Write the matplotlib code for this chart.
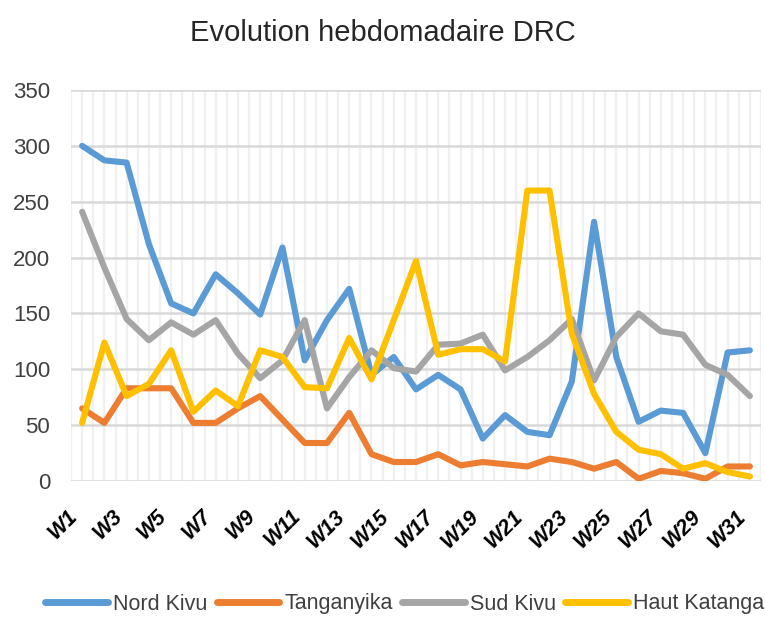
import matplotlib
matplotlib.use("Agg")
import matplotlib.pyplot as plt
import numpy as np

weeks = [f"W{i}" for i in range(1, 32)]
nord_kivu = [300, 287, 285, 212, 159, 150, 185, 168, 149, 209, 108, 144, 172, 95, 111, 82,
             95, 82, 38, 59, 44, 41, 89, 232, 111, 53, 63, 61, 25, 115, 117]
tanganyika = [65, 52, 83, 83, 83, 52, 52, 65, 76, 55, 34, 34, 61, 24, 17, 17,
              24, 14, 17, 15, 13, 20, 17, 11, 17, 2, 9, 7, 2, 13, 13]
sud_kivu = [241, 191, 145, 126, 142, 131, 144, 114, 92, 108, 144, 65, 93, 117, 101, 98,
            122, 123, 131, 99, 111, 126, 145, 90, 129, 150, 134, 131, 104, 95, 76]
haut_katanga = [52, 124, 76, 87, 117, 62, 81, 67, 117, 111, 84, 83, 128, 91, 144, 197,
                113, 118, 118, 107, 260, 260, 132, 78, 44, 28, 24, 11, 16, 8, 4]
series_names = ["Nord Kivu", "Tanganyika", "Sud Kivu", "Haut Katanga"]
colors = ["#5B9BD5", "#ED7D31", "#A5A5A5", "#FFC000"]
yticks = [0, 50, 100, 150, 200, 250, 300, 350]

plt.rcParams['font.family'] = ['Liberation Sans', 'DejaVu Sans']

fig = plt.figure(figsize=(7.65, 6.18), dpi=100)
ax = fig.add_axes([71/765, 1-481/618, (761-71)/765, (481-90)/618])

x = np.arange(1, len(weeks) + 1)
for vals, name, c in zip([nord_kivu, tanganyika, sud_kivu, haut_katanga], series_names, colors):
    ax.plot(x, vals, color=c, lw=4.4, label=name, solid_capstyle='round',
            solid_joinstyle='round', zorder=3)

ax.set_xlim(0.5, len(weeks) + 0.5)
ax.set_ylim(0, 350)
ax.set_yticks(yticks)
ax.set_yticklabels([str(v) for v in yticks], fontsize=16, color="#404040")

for xv in np.arange(0.5, len(weeks) + 0.75, 0.5):
    ax.axvline(xv, color="#f0f0f0", lw=1.6, zorder=1)
for yv in yticks:
    ax.axhline(yv, color="#d9d9d9", lw=1.8, zorder=2)

ax.set_xticks(x)
ax.set_xticklabels([w if i % 2 == 0 else "" for i, w in enumerate(weeks)],
                   rotation=45, ha='right', va='top', fontsize=15.5,
                   fontweight='bold', fontstyle='italic', color="#000000")
ax.tick_params(axis='both', length=0)
ax.tick_params(axis='y', pad=15)
ax.tick_params(axis='x', pad=18)
for lbl in ax.get_xticklabels():
    lbl.set_x(lbl.get_position()[0])
for s in ax.spines.values():
    s.set_visible(False)

fig.text(0.5, 1-33/618, "Evolution hebdomadaire DRC", ha='center', va='center',
         fontsize=21, color="#262626")

leg = fig.legend(loc='center', bbox_to_anchor=(0.529, 1-604/618), ncol=4, frameon=False,
                 fontsize=15.5, handlelength=2.9, columnspacing=0.45, handletextpad=0.23,
                 labelcolor="#404040")
for line in leg.get_lines():
    line.set_linewidth(5)

fig.savefig("out.png", dpi=100)
